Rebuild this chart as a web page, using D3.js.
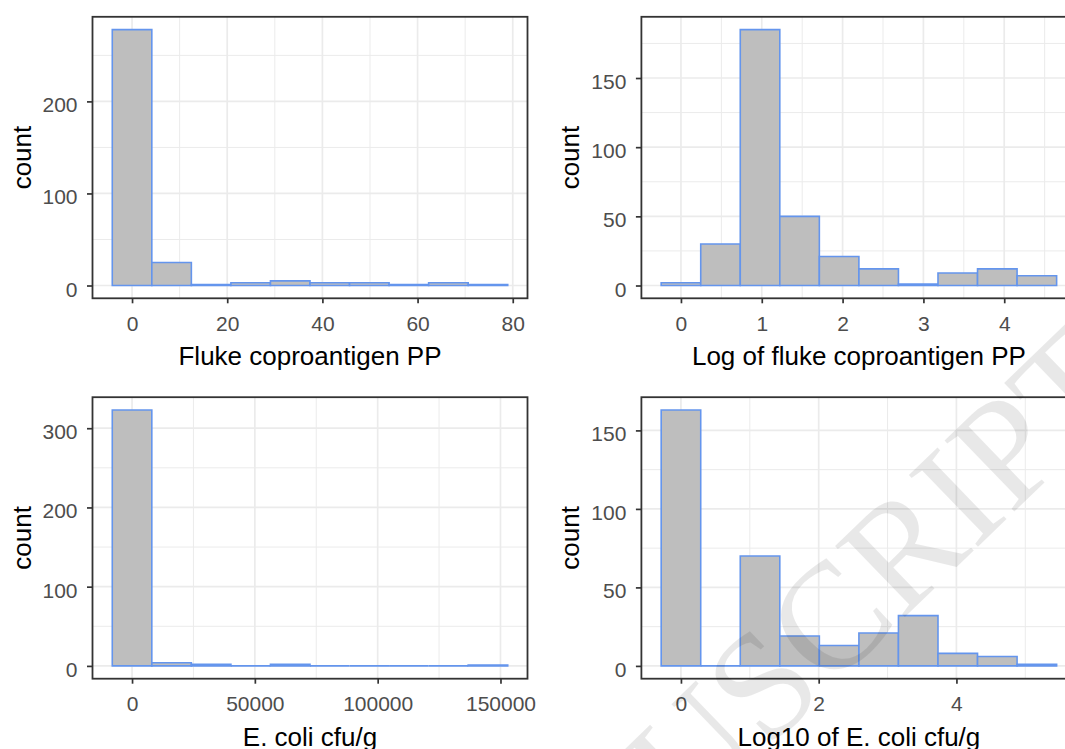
<!DOCTYPE html>
<html>
<head>
<meta charset="utf-8">
<script src="https://cdn.jsdelivr.net/npm/d3@7"></script>
<style>
  body { margin: 0; background: #ffffff; }
  svg { display: block; }
</style>
</head>
<body>
<script>
// ---------------- data ----------------
// Fluke coproantigen PP (10 bins)
const flukeBinStart = -4.155;
const flukeBinWidth = 8.31;
const flukeCounts = [278, 25, 1, 3, 5, 3, 3, 1, 3, 1];
const flukeXTicks = [0, 20, 40, 60, 80];
const flukeYTicks = [0, 100, 200];

// Log of fluke coproantigen PP
const logFlukeBinStart = -0.2447;
const logFlukeBinWidth = 0.4893;
const logFlukeCounts = [2, 30, 185, 50, 21, 12, 1, 9, 12, 7];
const logFlukeXTicks = [0, 1, 2, 3, 4];
const logFlukeYTicks = [0, 50, 100, 150];

// E. coli cfu/g
const ecoliBinStart = -8050;
const ecoliBinWidth = 16100;
const ecoliCounts = [323, 4, 2, 0, 2, 0, 0, 0, 0, 1];
const ecoliXTicks = [0, 50000, 100000, 150000];
const ecoliYTicks = [0, 100, 200, 300];

// Log10 of E. coli cfu/g
const logEcoliBinStart = -0.2871;
const logEcoliBinWidth = 0.5742;
const logEcoliCounts = [163, 0, 70, 19, 13, 21, 32, 8, 6, 1];
const logEcoliXTicks = [0, 2, 4];
const logEcoliYTicks = [0, 50, 100, 150];

const xTitles = ["Fluke coproantigen PP", "Log of fluke coproantigen PP",
                 "E. coli cfu/g", "Log10 of E. coli cfu/g"];
const yTitle = "count";
const watermarkText = "ACCEPTED MANUSCRIPT";

// ---------------- layout ----------------
const W = 1065, H = 749;
const PW = 435, PH = 281.5;
const FONT = "'Liberation Sans', Arial, sans-serif";
const TICK_FS = 21, TITLE_FS = 26;

const svg = d3.select("body").append("svg")
  .attr("width", W).attr("height", H)
  .attr("viewBox", `0 0 ${W} ${H}`);

const panels = [
  { counts: flukeCounts, start: flukeBinStart, width: flukeBinWidth,
    xTicks: flukeXTicks, yTicks: flukeYTicks, title: xTitles[0], x0: 92.5, y0: 16.8 },
  { counts: logFlukeCounts, start: logFlukeBinStart, width: logFlukeBinWidth,
    xTicks: logFlukeXTicks, yTicks: logFlukeYTicks, title: xTitles[1], x0: 641.4, y0: 16.8 },
  { counts: ecoliCounts, start: ecoliBinStart, width: ecoliBinWidth,
    xTicks: ecoliXTicks, yTicks: ecoliYTicks, title: xTitles[2], x0: 92.5, y0: 397.2 },
  { counts: logEcoliCounts, start: logEcoliBinStart, width: logEcoliBinWidth,
    xTicks: logEcoliXTicks, yTicks: logEcoliYTicks, title: xTitles[3], x0: 641.4, y0: 397.2 }
];

function minorBreaks(ticks, domain) {
  const step = ticks[1] - ticks[0];
  const ext = [ticks[0] - step, ...ticks, ticks[ticks.length - 1] + step];
  const out = [];
  for (let i = 0; i < ext.length - 1; i++) out.push((ext[i] + ext[i + 1]) / 2);
  return out.filter(v => v >= domain[0] && v <= domain[1]);
}

panels.forEach((p, i) => {
  const n = p.counts.length;
  const lo = p.start, hi = p.start + n * p.width;
  const span = hi - lo;
  const x = d3.scaleLinear().domain([lo - 0.05 * span, hi + 0.05 * span])
    .range([p.x0, p.x0 + PW]);
  const ymax = d3.max(p.counts);
  const y = d3.scaleLinear().domain([-0.05 * ymax, 1.05 * ymax])
    .range([p.y0 + PH, p.y0]);

  const g = svg.append("g");
  const clipId = "clip" + i;
  g.append("clipPath").attr("id", clipId).append("rect")
    .attr("x", p.x0).attr("y", p.y0).attr("width", PW).attr("height", PH);

  const inner = g.append("g").attr("clip-path", `url(#${clipId})`);
  inner.append("rect").attr("x", p.x0).attr("y", p.y0)
    .attr("width", PW).attr("height", PH).attr("fill", "#ffffff");

  // minor grid
  const xMin = minorBreaks(p.xTicks, x.domain());
  const yMin = minorBreaks(p.yTicks, y.domain());
  inner.selectAll(".vminor").data(xMin).join("line")
    .attr("x1", d => x(d)).attr("x2", d => x(d))
    .attr("y1", p.y0).attr("y2", p.y0 + PH)
    .attr("stroke", "#ebebeb").attr("stroke-width", 1.0);
  inner.selectAll(".hminor").data(yMin).join("line")
    .attr("y1", d => y(d)).attr("y2", d => y(d))
    .attr("x1", p.x0).attr("x2", p.x0 + PW)
    .attr("stroke", "#ebebeb").attr("stroke-width", 1.0);
  // major grid
  inner.selectAll(".vmajor").data(p.xTicks).join("line")
    .attr("x1", d => x(d)).attr("x2", d => x(d))
    .attr("y1", p.y0).attr("y2", p.y0 + PH)
    .attr("stroke", "#ebebeb").attr("stroke-width", 1.7);
  inner.selectAll(".hmajor").data(p.yTicks).join("line")
    .attr("y1", d => y(d)).attr("y2", d => y(d))
    .attr("x1", p.x0).attr("x2", p.x0 + PW)
    .attr("stroke", "#ebebeb").attr("stroke-width", 1.7);

  // bars
  const bins = p.counts.map((c, k) => ({ x0: p.start + k * p.width, x1: p.start + (k + 1) * p.width, c }));
  inner.selectAll(".bar").data(bins).join("path")
    .attr("d", d => `M${x(d.x0)},${y(0)}V${y(d.c)}H${x(d.x1)}V${y(0)}Z`)
    .attr("fill", "#bebebe")
    .attr("stroke", "#6495ed")
    .attr("stroke-width", 1.6);

  // border
  g.append("rect").attr("x", p.x0).attr("y", p.y0)
    .attr("width", PW).attr("height", PH)
    .attr("fill", "none").attr("stroke", "#333333").attr("stroke-width", 1.8);

  // axes
  const ax = g.append("g").attr("transform", `translate(0,${p.y0 + PH})`)
    .call(d3.axisBottom(x).tickValues(p.xTicks).tickSize(5).tickPadding(12.5).tickFormat(d => String(d)));
  const ay = g.append("g").attr("transform", `translate(${p.x0},0)`)
    .call(d3.axisLeft(y).tickValues(p.yTicks).tickSize(5.5).tickPadding(9.5).tickFormat(d => String(d)));
  [ax, ay].forEach(a => {
    a.select(".domain").remove();
    a.selectAll(".tick line").attr("stroke", "#333333").attr("stroke-width", 1.7);
    a.selectAll(".tick text").attr("fill", "#4d4d4d")
      .style("font-family", FONT).style("font-size", TICK_FS + "px");
  });
  ay.selectAll(".tick text").attr("dy", "0.5em");

  // titles
  g.append("text")
    .attr("x", p.x0 + PW / 2).attr("y", p.y0 + PH + 67)
    .attr("text-anchor", "middle")
    .style("font-family", FONT).style("font-size", TITLE_FS + "px")
    .attr("fill", "#000000").text(p.title);
  g.append("text")
    .attr("transform", `translate(${p.x0 - 62},${p.y0 + PH / 2}) rotate(-90)`)
    .attr("text-anchor", "middle")
    .style("font-family", FONT).style("font-size", TITLE_FS + "px")
    .attr("fill", "#000000").text(yTitle);
});

// watermark
svg.append("text")
  .attr("transform", "translate(1138,392) rotate(-44)")
  .attr("text-anchor", "end")
  .style("font-family", "'Liberation Serif', 'Times New Roman', serif")
  .style("font-size", "152px")
  .attr("fill", "#000000")
  .attr("fill-opacity", 0.09)
  .text(watermarkText);
</script>
</body>
</html>
